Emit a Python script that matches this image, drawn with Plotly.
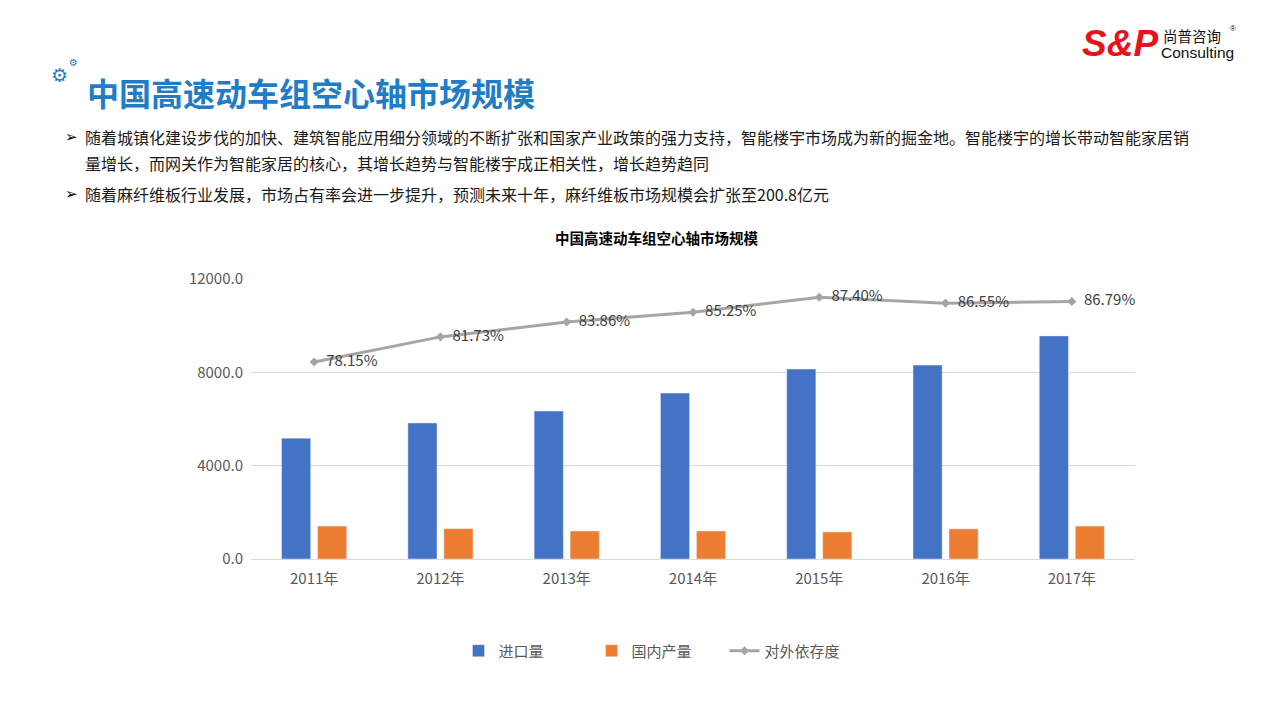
import plotly.graph_objects as go

years = ['2011年', '2012年', '2013年', '2014年', '2015年', '2016年', '2017年']
imports = [5180, 5830, 6340, 7110, 8140, 8310, 9560]
domestic = [1410, 1300, 1200, 1200, 1160, 1290, 1410]
dependency = [0.7815, 0.8173, 0.8386, 0.8525, 0.8740, 0.8655, 0.8679]
y_ticks = [0, 4000, 8000, 12000]

FONT = 'Noto Sans CJK SC, Microsoft YaHei, sans-serif'
W, H = 1280, 720
OFF = 8  # page body margin shifts the figure
L, R, T, B = 251 - OFF, 1135 - OFF, 279 - OFF, 559 - OFF


def px(x, y):
    # screen pixel -> paper coords
    return (x - OFF - L) / (R - L), (B - (y - OFF)) / (B - T)


fig = go.Figure()
fig.add_trace(go.Bar(x=years, y=imports, name='进口量', marker_color='#4472C4'))
fig.add_trace(go.Bar(x=years, y=domestic, name='国内产量', marker_color='#ED7D31'))
fig.add_trace(go.Scatter(
    x=years, y=dependency, name='对外依存度', yaxis='y2',
    mode='lines+markers+text',
    line=dict(color='#A5A5A5', width=3),
    marker=dict(symbol='diamond', size=7, color='#A5A5A5'),
    text=['\u00a0\u00a0%.2f%%' % (v * 100) for v in dependency],
    textposition='middle right',
    textfont=dict(size=15, color='#404040', family=FONT),
    cliponaxis=False,
))

fig.update_layout(
    width=W, height=H, autosize=False,
    margin=dict(l=L, r=W - R, t=T, b=H - B),
    paper_bgcolor='white', plot_bgcolor='white',
    font=dict(family=FONT, color='#595959', size=15),
    barmode='group', bargap=0.43, bargroupgap=0.19,
    xaxis=dict(showgrid=False, ticks='', showline=False, ticklabelstandoff=9,
               tickfont=dict(size=15, color='#595959')),
    yaxis=dict(range=[0, 12000], tickvals=y_ticks, tickformat='.1f',
               gridcolor='#D9D9D9', gridwidth=1, zeroline=True,
               zerolinecolor='#D9D9D9', zerolinewidth=1, showline=False,
               ticks='', ticklabelstandoff=7,
               tickfont=dict(size=15, color='#595959')),
    yaxis2=dict(range=[0.5, 0.9], overlaying='y', side='right',
                visible=False, showgrid=False),
    showlegend=True,
    legend=dict(orientation='h', x=px(658, 0)[0], xanchor='center',
                y=px(0, 651)[1], yanchor='middle',
                font=dict(size=15, color='#595959'),
                entrywidth=88, entrywidthmode='pixels',
                traceorder='normal'),
)

anns = []


def note(x, y, text, size, color='#000000', bold=False, xanchor='left', family=FONT):
    xp, yp = px(x, y)
    if bold:
        text = '<b>' + text + '</b>'
    anns.append(dict(xref='paper', yref='paper', x=xp, y=yp, text=text,
                     showarrow=False, xanchor=xanchor, yanchor='middle',
                     xshift=-2, borderpad=0,
                     font=dict(size=size, color=color, family=family)))


# chart title
note(658, 237, '中国高速动车组空心轴市场规模', 14.5, '#000000', True, 'center')

# page header
note(61, 75, '⚙', 19, '#1F7DC8', xanchor='center', family='DejaVu Sans')
note(75, 62, '⚙', 10, '#1F7DC8', xanchor='center', family='DejaVu Sans')
note(88, 92, '中国高速动车组空心轴市场规模', 32, '#1F7DC8', True)

# bullets
note(66, 137, '➢', 15, '#000000', family='DejaVu Sans')
note(86, 137, '随着城镇化建设步伐的加快、建筑智能应用细分领域的不断扩张和国家产业政策的强力支持，智能楼宇市场成为新的掘金地。智能楼宇的增长带动智能家居销', 16, '#1a1a1a')
note(86, 163, '量增长，而网关作为智能家居的核心，其增长趋势与智能楼宇成正相关性，增长趋势趋同', 16, '#1a1a1a')
note(66, 194, '➢', 15, '#000000', family='DejaVu Sans')
note(86, 194, '随着麻纤维板行业发展，市场占有率会进一步提升，预测未来十年，麻纤维板市场规模会扩张至200.8亿元', 16, '#1a1a1a')

# logo
note(1083, 43, '<b><i>S&amp;P</i></b>', 37, '#E8121C', family='Liberation Sans, Arial, sans-serif')
note(1164, 35, '尚普咨询', 14.5, '#111111')
note(1162, 52, 'Consulting', 15.5, '#111111', family='Liberation Sans, Arial, sans-serif')
note(1231, 28, '®', 8, '#111111', family='Liberation Sans, Arial, sans-serif')

fig.update_layout(annotations=anns)

fig.write_html("out.html")
